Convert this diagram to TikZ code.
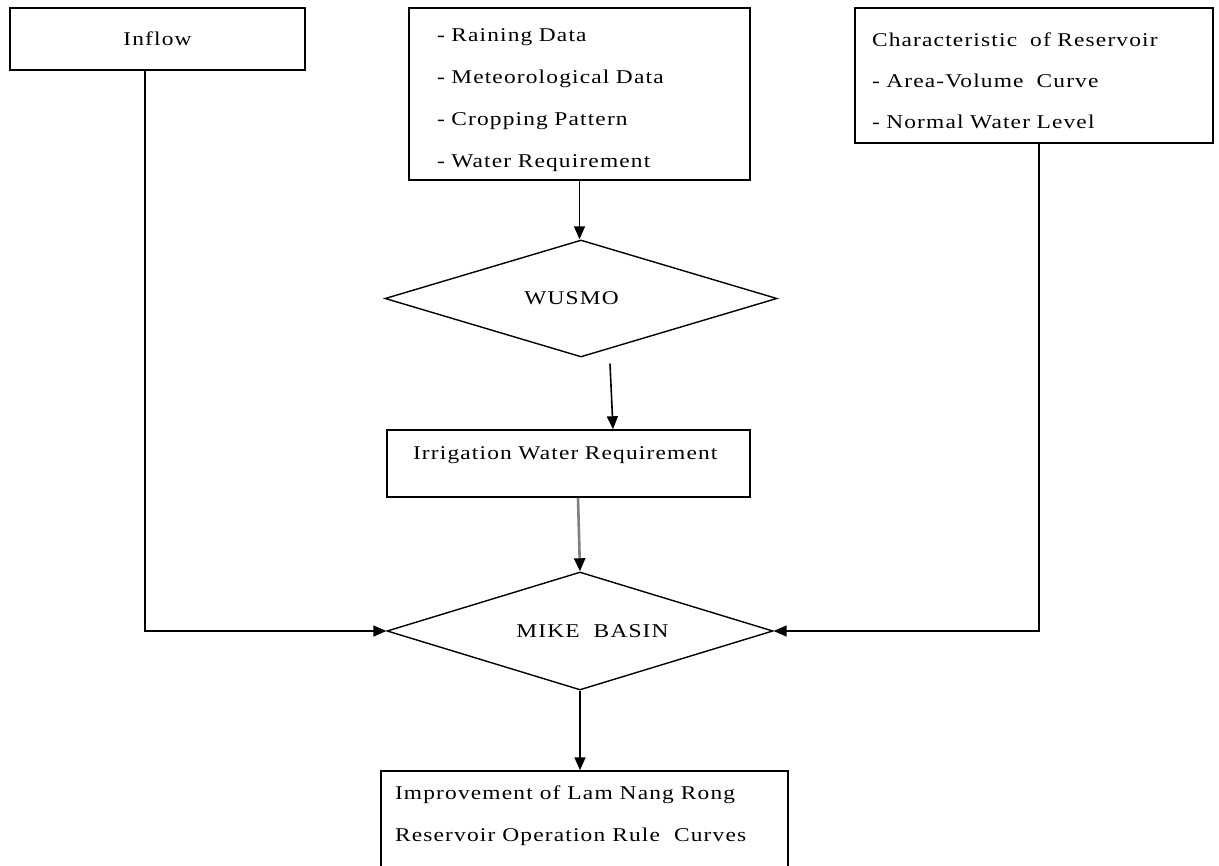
\documentclass[tikz,border=0pt]{standalone}
\usepackage{fontspec}
\setmainfont{Liberation Serif}
\newfontfamily\diagfont[FakeStretch=1.2,LetterSpace=6]{Liberation Serif}
\usetikzlibrary{shapes.geometric,arrows.meta}
\tikzset{
  box/.style={draw=black, line width=1.5pt, rectangle, inner sep=0pt, font=\diagfont\fontsize{19.5}{42}\selectfont},
  dia/.style={draw=black, line width=1.4pt, diamond, inner sep=0pt, font=\diagfont\fontsize{19.5}{42}\selectfont},
  conn/.style={line width=1.6pt, -{Triangle[length=13pt,width=11pt]}},
}
\begin{document}
\begin{tikzpicture}[x=1pt,y=-1pt]
\useasboundingbox (0,0) rectangle (1219,866);
% boxes
\node[box, minimum width=295pt, minimum height=62pt] (inflow) at (157.5,39) {Inflow};
\node[box, minimum width=341pt, minimum height=172pt, align=left, text width=285pt] (data) at (579.5,94)
  {\raisebox{-6pt}[\height][\depth]{\parbox{285pt}{\baselineskip=42pt - Raining Data\\- Meteorological Data\\- Cropping Pattern\\- Water Requirement}}};
\node[box, minimum width=358pt, minimum height=135pt, align=left, text width=324pt] (char) at (1034,75.5)
  {\raisebox{-5pt}[\height][\depth]{\parbox{324pt}{\baselineskip=41pt Characteristic\ \ of Reservoir\\- Area-Volume\ \ Curve\\- Normal Water Level}}};
\node[dia, minimum width=392pt, minimum height=117pt] (wusmo) at (581,298.5) {\makebox[0pt]{WUSMO\hspace*{19pt}}};
\node[box, minimum width=363pt, minimum height=67pt, align=left, text width=311pt] (irr) at (568.5,463.5)
  {\raisebox{8pt}[\height][\depth]{Irrigation Water Requirement}};
\node[dia, minimum width=386pt, minimum height=118pt] (mike) at (580,631) {\makebox[0pt]{\hspace*{25pt}MIKE\ \ BASIN}};
\node[box, minimum width=407pt, minimum height=110pt, align=left] (final) at (584.5,826)
  {\raisebox{10pt}[\height][\depth]{\parbox{379pt}{\baselineskip=42pt Improvement of Lam Nang Rong\\Reservoir Operation Rule\ \ Curves}}};
% connectors
\draw[conn] (data.south) -- (data.south |- wusmo.north);
\draw[conn] ([xshift=29pt,yshift=-6pt]wusmo.south) -- ([xshift=44.5pt]irr.north);
\draw[line width=2.6pt, draw=gray, -{Triangle[length=13pt,width=11pt,color=black]}] ([xshift=9.5pt]irr.south) -- (mike.north);
\draw[conn] ([xshift=-12.5pt]inflow.south) |- (mike.west);
\draw[conn] ([xshift=5pt]char.south) |- (mike.east);
\draw[conn] (mike.south) -- (mike.south |- final.north);
\end{tikzpicture}
\end{document}
